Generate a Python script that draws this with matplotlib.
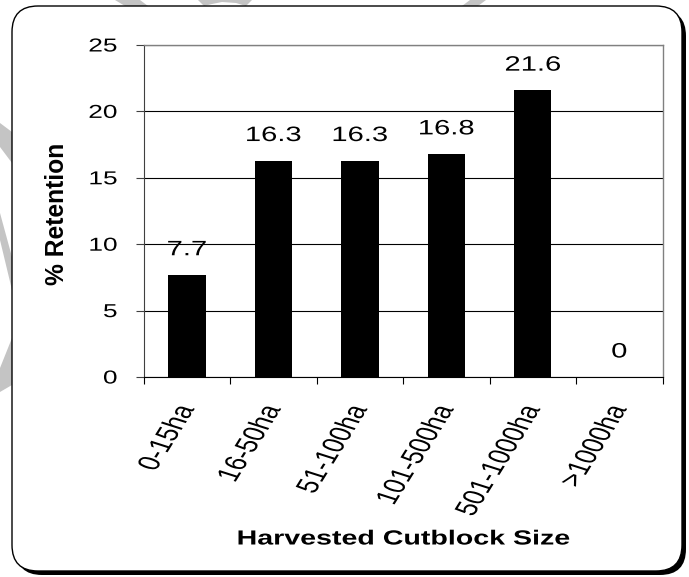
import matplotlib
matplotlib.use("Agg")
import matplotlib.pyplot as plt
import matplotlib.patheffects as pe
from matplotlib.patches import FancyBboxPatch, Polygon
from matplotlib.transforms import Affine2D
import numpy as np

plt.rcParams['font.family'] = ['Liberation Sans', 'DejaVu Sans']

# data
categories = ['0-15ha', '16-50ha', '51-100ha', '101-500ha', '501-1000ha', '>1000ha']
retention = [7.7, 16.3, 16.3, 16.8, 21.6, 0]
y_ticks = [0, 5, 10, 15, 20, 25]


class Widen(pe.AbstractPathEffect):
    """Stretch text horizontally (the reference image is widened).
    anchor: 0 left end, 0.5 centre, 1 right end of the text stays put.
    screen=True stretches after rotation (in display x), else along the baseline."""

    def __init__(self, sx=1.4, anchor=0.5, screen=False):
        super().__init__()
        self.sx = sx
        self.anchor = anchor
        self.screen = screen

    def draw_path(self, renderer, gc, tpath, affine, rgbFace=None):
        ext = tpath.get_extents()
        px = ext.x0 + self.anchor * (ext.x1 - ext.x0)
        py = (ext.y0 + ext.y1) / 2
        if self.screen:
            dx, dy = affine.transform((px, py))
            stretch = Affine2D().translate(-dx, -dy).scale(self.sx, 1).translate(dx, dy)
            new = affine + stretch
        else:
            stretch = Affine2D().translate(-px, 0).scale(self.sx, 1).translate(px, 0)
            new = stretch + affine
        renderer.draw_path(gc, tpath, new, rgbFace)


W, H = 689, 577
fig = plt.figure(figsize=(W / 100, H / 100), dpi=100)

# background: faint watermark pieces + rounded frame with drop shadow
bg = fig.add_axes([0, 0, 1, 1], zorder=-1)
bg.set_xlim(0, W)
bg.set_ylim(H, 0)
bg.axis('off')
wm = '#c4c4c4'
for pts in [[(0, 123), (12, 132), (12, 163), (0, 147)],
            [(0, 213), (12, 257), (12, 290), (0, 240)],
            [(12, 338), (0, 368), (0, 392), (12, 385)],
            [(115, 0), (140, 0), (148, 6), (125, 6)],
            [(198, 0), (252, 0), (246, 6), (236, 3), (222, 2), (212, 4), (204, 6)],
            [(470, 0), (486, 0), (478, 6), (462, 6)]]:
    bg.add_patch(Polygon(pts, closed=True, fc=wm, ec='none'))
bg.add_patch(FancyBboxPatch((16, 10), 670, 565, boxstyle='round,pad=0,rounding_size=26',
                            fc='black', ec='none'))
bg.add_patch(FancyBboxPatch((12, 6), 670, 565, boxstyle='round,pad=0,rounding_size=26',
                            fc='white', ec='black', lw=1))

# plot area
left, right, top, bottom = 143.7, 662.6, 45, 377
ax = fig.add_axes([left / W, 1 - bottom / H, (right - left) / W, (bottom - top) / H])
ax.set_facecolor('none')

x = np.arange(len(categories))
ax.bar(x, retention, width=0.43, color='black', zorder=3)
ax.set_xlim(-0.5, len(categories) - 0.5)
ax.set_ylim(0, 25)

for i, v in enumerate(retention):
    ax.annotate(f"{v:g}", (x[i], v), xytext=(0, 18), textcoords='offset points',
                ha='center', va='center', fontsize=15, zorder=2,
                path_effects=[Widen(1.4, 0.5)])

ax.set_yticks(y_ticks)
ax.yaxis.grid(True, color='black', lw=0.8, zorder=1)
ax.set_axisbelow(True)
ax.tick_params(axis='y', direction='out', length=6, width=0.8, color='#404040',
               labelsize=13.5, pad=13)

# labels at bar centres, tick marks at category boundaries
ax.set_xticks(x)
ax.set_xticklabels(categories, rotation=66, ha='right', va='center',
                   rotation_mode='anchor', fontsize=16)
ax.set_xticks(np.arange(len(categories) + 1) - 0.5, minor=True)
ax.tick_params(axis='x', which='major', length=0, pad=21)
ax.tick_params(axis='x', which='minor', direction='out', length=5, width=0.8, color='black')

for side in ['top', 'right']:
    ax.spines[side].set_color('#808080')
    ax.spines[side].set_linewidth(1)
ax.spines['left'].set_color('#404040')
ax.spines['bottom'].set_color('black')

ax.set_ylabel('% Retention', fontsize=17.7, fontweight='bold')
ax.yaxis.set_label_coords((56.5 - left) / (right - left), (bottom - 214) / (bottom - top))
ax.yaxis.label.set_va('center')

ax.set_xlabel('Harvested Cutblock Size', fontsize=14.7, fontweight='bold',
              path_effects=[Widen(1.4, 0.5)])
ax.xaxis.set_label_coords(0.5, (bottom - 539) / (bottom - top))
ax.xaxis.label.set_va('center')


def widen_ticks():
    for t in ax.yaxis.get_major_ticks():
        t.label1.set_path_effects([Widen(1.4, 1.0)])
    for t in ax.xaxis.get_major_ticks():
        t.label1.set_path_effects([Widen(1.4, 1.0, screen=True)])


widen_ticks()
fig.canvas.draw()
widen_ticks()

fig.savefig('out.png', dpi=100)
